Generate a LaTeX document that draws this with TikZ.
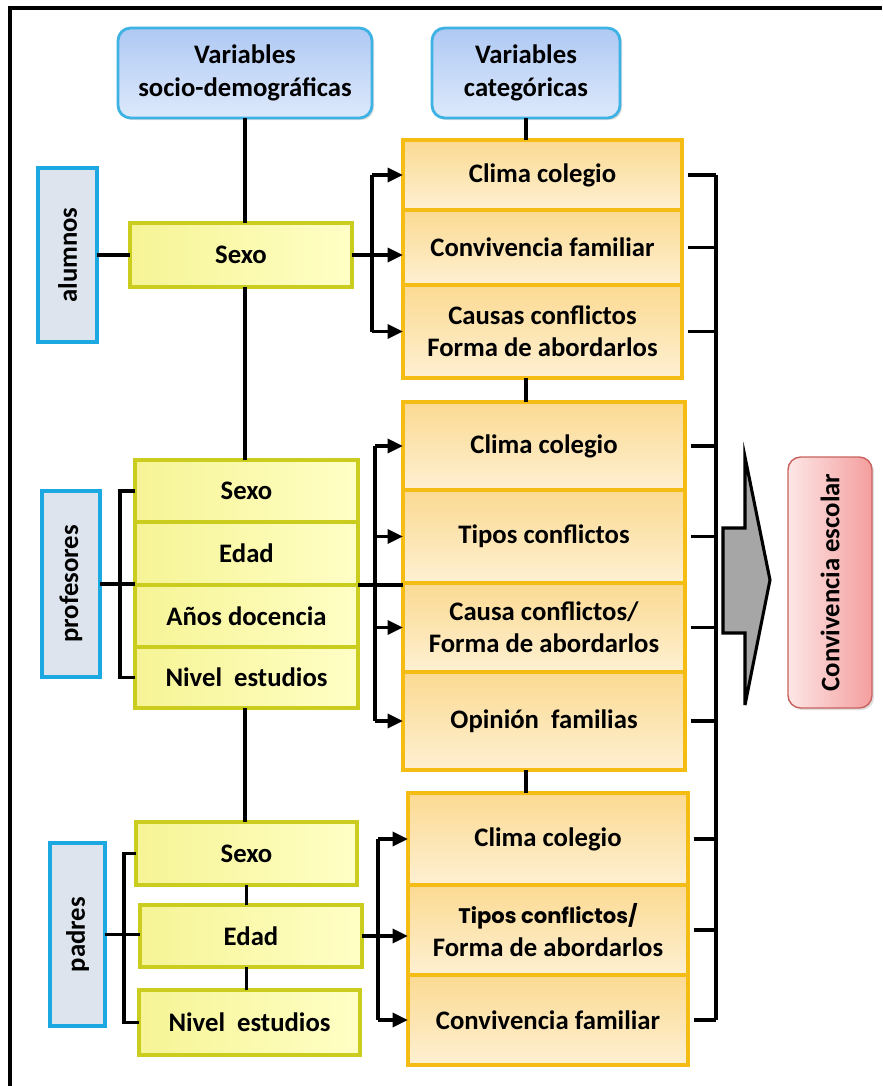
\documentclass[tikz,border=0pt]{standalone}
\usepackage{fontspec}
\setmainfont{Carlito}
\newfontfamily\geofont{Poppins}
\usepackage{tikz}
\usetikzlibrary{arrows.meta}
\usetikzlibrary{shadows}
\definecolor{headedge}{HTML}{3DB2E3}
\definecolor{headtop}{HTML}{AFC9F4}
\definecolor{headbot}{HTML}{DDE9FB}
\definecolor{whoedge}{HTML}{1CA9E2}
\definecolor{whofill}{HTML}{DDE4ED}
\definecolor{socioedge}{HTML}{CACD1E}
\definecolor{socioA}{HTML}{F6F495}
\definecolor{socioB}{HTML}{FFFFC6}
\definecolor{catedge}{HTML}{F5BC14}
\definecolor{catA}{HTML}{FBDA92}
\definecolor{catB}{HTML}{FEF0D2}
\definecolor{resedge}{HTML}{C8625E}
\definecolor{resA}{HTML}{FDE6E6}
\definecolor{resB}{HTML}{F49E9E}
\definecolor{arrowgray}{HTML}{A6A6A6}
\newcommand{\px}{0.025cm}
\tikzset{
    txt/.style={
        font=\bfseries\fontsize{19}{23}\selectfont,
        align=center, inner sep=0pt, outer sep=0pt
    },
    head/.style={
        txt, draw=headedge, line width=2pt, rounded corners=9pt,
        top color=headtop, bottom color=headbot,
        drop shadow={opacity=0.25, shadow xshift=1.5pt, shadow yshift=-1.5pt}
    },
    who/.style={txt, draw=whoedge, line width=2.6pt, fill=whofill},
    socio/.style={txt, draw=socioedge, line width=2.4pt, left color=socioA, right color=socioB},
    cat/.style={txt, draw=catedge, line width=2.6pt, top color=catA, bottom color=catB},
    result/.style={
        txt, draw=resedge, line width=1pt, rounded corners=9pt,
        left color=resA, right color=resB,
        drop shadow={opacity=0.25, shadow xshift=1.5pt, shadow yshift=-1.5pt}
    },
    link/.style={line width=2.5pt},
    arr/.style={link, -{Triangle[length=11pt,width=10pt]}},
    stub/.style={link, shorten <=4pt},
    bigarrow/.style={draw=black, line width=2.2pt, fill=arrowgray, line join=miter},
    frame/.style={line width=2.8pt}
}
\newcommand{\bx}[7] {
	\node[#6, minimum width={(#4-#2)*\px}, minimum height={(#5-#3)*\px}] (#1) at ({(#2+#4)/2},{(#3+#5)/2}) {#7};
}

\begin{document}
\begin{tikzpicture}[x=0.025cm, y=-0.025cm]
		\useasboundingbox (0,0) rectangle (882,1086);
		\draw[frame] (10,1086) -- (10,8) -- (882,8);

		% Headers
		\bx{h1}{118}{28}{372}{118}{head}{Variables\\socio-demográficas}
		\bx{h2}{432}{28}{620}{118}{head}{Variables\\categóricas}

		% Alumnos
		\bx{alum}{38}{168}{97}{342}{who}{\rotatebox{90}{alumnos}}
		\bx{aSexo}{130}{223}{352}{287}{socio}{Sexo}
		\bx{clima1}{403}{140}{682}{210}{cat}{Clima colegio}
		\bx{conv1}{403}{210}{682}{285}{cat}{Convivencia familiar}
		\bx{causas1}{403}{285}{682}{378}{cat}{Causas conflictos\\Forma de abordarlos}

		% Profesores
		\bx{prof}{42}{491}{100}{677}{who}{\rotatebox{90}{profesores}}
		\bx{pSexo}{135}{460}{358}{522}{socio}{Sexo}
		\bx{pEdad}{135}{522}{358}{585}{socio}{Edad}
		\bx{pAnos}{135}{585}{358}{647}{socio}{Años docencia}
		\bx{pNivel}{135}{647}{358}{708}{socio}{Nivel\ \ estudios}
		\bx{clima2}{403}{402}{685}{490}{cat}{Clima colegio}
		\bx{tipos2}{403}{490}{685}{583}{cat}{Tipos conflictos}
		\bx{causa2}{403}{583}{685}{672}{cat}{Causa conflictos/\\Forma de abordarlos}
		\bx{opin2}{403}{672}{685}{770}{cat}{Opinión\ \ familias}

		% Padres
		\bx{padr}{50}{843}{105}{1026}{who}{\rotatebox{90}{padres}}
		\bx{qSexo}{136}{822}{357}{885}{socio}{Sexo}
		\bx{qEdad}{140}{905}{362}{967}{socio}{Edad}
		\bx{qNivel}{139}{990}{360}{1055}{socio}{Nivel\ \ estudios}
		\bx{clima3}{408}{793}{688}{885}{cat}{Clima colegio}
		\bx{tipos3}{408}{885}{688}{975}{cat}{{\geofont\fontsize{15}{17}\selectfont Tipos conflictos/}\\Forma de abordarlos}
		\bx{conv3}{408}{975}{688}{1065}{cat}{Convivencia familiar}

		% Result
		\bx{esc}{788}{457}{872}{708}{result}{\rotatebox{90}{Convivencia escolar}}

		% Spines
		\draw[link] (h1.south) -- (h1.south |- aSexo.north);
		\draw[link] (h1.south |- aSexo.south) -- (h1.south |- pSexo.north);
		\draw[link] (h1.south |- pNivel.south) -- (h1.south |- qSexo.north);
		\draw[link] (qSexo.south) -- (qSexo.south |- qEdad.north);
		\draw[link] (qSexo.south |- qEdad.south) -- (qSexo.south |- qNivel.north);
		\draw[link] (h2.south) -- (h2.south |- clima1.north);
		\draw[link] (h2.south |- causas1.south) -- (h2.south |- clima2.north);
		\draw[link] (h2.south |- opin2.south) -- (h2.south |- clima3.north);

		% Alumnos links
		\coordinate (busA) at (372,0);
		\draw[link] (alum) -- (aSexo);
		\draw[arr] (aSexo.east) -- (aSexo.east -| conv1.west);
		\draw[link] (busA |- clima1.west) -- (busA |- causas1.west);
		\draw[arr] (busA |- clima1.west) -- (clima1.west);
		\draw[arr] (busA |- causas1.west) -- (causas1.west);

		% Profesores links
		\coordinate (brkP) at (120,0);
		\coordinate (busP) at (375,0);
		\draw[link] (prof.east) -- (prof.east -| pEdad.west);
		\draw[link] (pSexo.west) -- (brkP |- pSexo.west) -- (brkP |- pNivel.west) -- (pNivel.west);
		\draw[link] (pEdad.south east) -- (pEdad.south east -| causa2.west);
		\draw[link] (busP |- clima2.west) -- (busP |- opin2.west);
		\foreach \n in {clima2, tipos2, causa2, opin2}
			\draw[arr] (busP |- \n.west) -- (\n.west);

		% Padres links
		\coordinate (brkQ) at (124,0);
		\coordinate (busQ) at (378,0);
		\draw[link] (padr.east) -- (padr.east -| qEdad.west);
		\draw[link] (qSexo.west) -- (brkQ |- qSexo.west) -- (brkQ |- qNivel.west) -- (qNivel.west);
		\draw[arr] (qEdad.east) -- (qEdad.east -| tipos3.west);
		\draw[link] (busQ |- clima3.west) -- (busQ |- conv3.west);
		\draw[arr] (busQ |- clima3.west) -- (clima3.west);
		\draw[arr] (busQ |- conv3.west) -- (conv3.west);

		% Right side
		\coordinate (busR) at (716,0);
		\foreach \n in {clima1, conv1, causas1, clima2, tipos2, causa2, opin2, clima3, tipos3, conv3}
			\draw[stub] (\n.east) -- (busR |- \n.east);
		\draw[link] (busR |- clima1.east) -- (busR |- conv3.east);
		\draw[bigarrow] (723,528) -- (745,528) -- (745,457) -- (770,580) -- (745,705) -- (745,633) -- (723,633) -- cycle;

	\end{tikzpicture}
\end{document}
